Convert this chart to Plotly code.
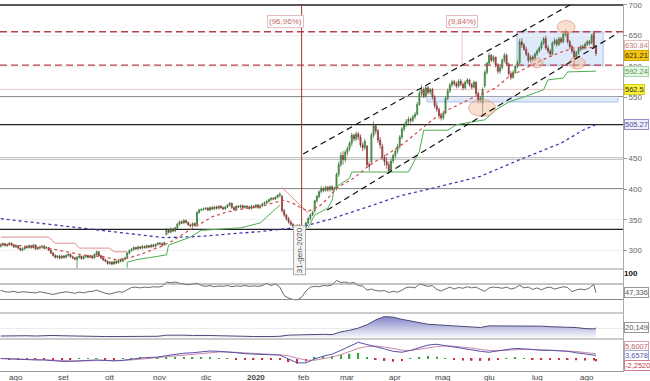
import pandas as pd
import plotly.graph_objects as go
from plotly.subplots import make_subplots

# ---------------- data ----------------
first_day = "2019-07-23"

close = [
 309, 311, 308, 310, 312, 309, 306, 308, 304, 301,
 303, 306, 305, 308, 305, 309, 303, 304, 306, 307,
 304, 305, 301, 296, 292, 289, 291, 288, 291, 289,
 292, 294, 290, 288, 286, 289, 291, 287, 290, 292,
 289, 291, 288, 294, 298, 292, 288, 285, 283, 279,
 281, 278, 282, 280, 284, 283, 286, 288, 296, 300,
 302, 305, 303, 306, 304, 307, 305, 308, 306, 309,
 307, 310, 312, 311, 309, 313, 333, 330, 335, 332,
 337, 343, 347, 345, 349, 346, 342, 340, 344, 341,
 362, 366, 367, 368, 369, 366, 370, 368, 371, 369,
 372, 370, 368, 371, 374, 377, 370, 367, 372, 371,
 373, 370, 372, 371, 369, 372, 371, 374, 370, 373,
 376, 378, 380, 383, 385, 384, 387, 390, 392, 365,
 358, 352, 347, 343, 340, 338, 341, 337, 334, 339,
 345, 352, 358, 362, 381, 388, 396, 401, 398, 403,
 399, 404, 400, 401, 424, 440, 455, 448, 460, 466,
 475, 488, 482, 490, 485, 472, 468, 478, 440, 437,
 488, 503, 495, 480, 472, 452, 445, 440, 430, 446,
 455, 462, 470, 485, 498, 505, 510, 514, 512, 518,
 522, 538, 556, 562, 552, 565, 558, 562, 550, 536,
 530, 520, 516, 524, 548, 560, 570, 575, 572, 568,
 576, 571, 565, 574, 578, 570, 566, 574, 556, 545,
 548, 562, 590, 605, 618, 610, 615, 602, 592, 598,
 610, 618, 604, 588, 582, 590, 600, 606, 640, 635,
 628, 620, 610, 615, 612, 620, 625, 630, 638, 645,
 630, 625, 620, 638, 642, 636, 645, 640, 652, 656,
 640, 632, 625, 615, 622, 628, 632, 630, 636, 640,
 638, 650, 632, 621.21]

open_ = [
 307, 309, 311, 308, 310, 312, 309, 306, 308, 304,
 301, 303, 306, 305, 308, 305, 309, 303, 304, 306,
 307, 304, 305, 301, 296, 292, 289, 291, 288, 291,
 289, 292, 294, 290, 288, 286, 289, 291, 287, 290,
 292, 289, 291, 288, 293, 298, 292, 288, 285, 283,
 279, 281, 278, 282, 280, 284, 283, 286, 289, 296,
 300, 302, 305, 303, 306, 304, 307, 305, 308, 306,
 309, 307, 310, 312, 311, 309, 326, 333, 330, 335,
 332, 337, 343, 347, 345, 349, 346, 342, 340, 344,
 343, 362, 366, 367, 368, 369, 366, 370, 368, 371,
 369, 372, 370, 368, 371, 374, 377, 370, 367, 372,
 371, 373, 370, 372, 371, 369, 372, 371, 374, 370,
 373, 376, 378, 380, 383, 385, 384, 387, 390, 389,
 365, 358, 352, 347, 343, 340, 338, 341, 337, 334,
 339, 345, 352, 358, 364, 381, 388, 396, 401, 398,
 403, 399, 404, 400, 401, 424, 440, 455, 448, 460,
 466, 475, 488, 482, 490, 485, 472, 468, 470, 440,
 445, 488, 503, 495, 480, 470, 452, 445, 440, 430,
 446, 455, 462, 470, 485, 498, 505, 510, 514, 512,
 518, 522, 538, 556, 562, 552, 565, 558, 562, 550,
 536, 530, 520, 516, 524, 548, 560, 570, 575, 572,
 568, 576, 571, 565, 574, 578, 570, 566, 574, 556,
 545, 540, 568, 590, 605, 618, 610, 615, 602, 592,
 598, 610, 618, 604, 588, 582, 590, 600, 606, 640,
 635, 628, 620, 610, 615, 612, 620, 625, 630, 638,
 645, 630, 625, 620, 638, 642, 636, 645, 640, 652,
 656, 640, 632, 625, 615, 622, 628, 632, 630, 636,
 640, 638, 654, 633]

high = [
 311, 313, 312, 311, 314, 313, 310, 310, 309, 305,
 305, 308, 308, 310, 309, 311, 310, 306, 308, 309,
 309, 307, 306, 302, 298, 294, 293, 293, 293, 293,
 294, 296, 295, 292, 290, 291, 293, 292, 292, 294,
 293, 293, 292, 295, 300, 299, 293, 290, 287, 284,
 283, 283, 284, 284, 286, 286, 288, 290, 298, 302,
 304, 307, 306, 308, 307, 309, 308, 310, 309, 311,
 311, 312, 314, 314, 313, 315, 337, 335, 338, 337,
 339, 345, 349, 349, 351, 350, 347, 344, 346, 346,
 364, 368, 369, 370, 371, 371, 372, 372, 373, 373,
 374, 374, 372, 373, 376, 379, 378, 372, 374, 374,
 375, 375, 374, 374, 373, 374, 374, 376, 376, 375,
 378, 380, 382, 385, 387, 387, 389, 392, 395, 390,
 368, 360, 355, 349, 345, 342, 343, 343, 339, 341,
 347, 355, 360, 365, 383, 391, 398, 405, 403, 406,
 405, 406, 406, 404, 427, 445, 460, 462, 464, 470,
 478, 492, 490, 494, 493, 489, 476, 482, 472, 445,
 492, 510, 506, 498, 485, 474, 456, 452, 445, 450,
 458, 466, 474, 488, 501, 508, 514, 518, 517, 521,
 526, 542, 560, 570, 566, 568, 568, 565, 565, 553,
 541, 533, 524, 528, 551, 564, 573, 578, 578, 575,
 579, 580, 574, 577, 581, 580, 573, 577, 576, 559,
 552, 566, 594, 608, 622, 620, 618, 616, 605, 601,
 613, 622, 621, 606, 592, 594, 603, 610, 645, 646,
 638, 632, 623, 618, 618, 623, 628, 633, 642, 648,
 650, 634, 628, 641, 646, 645, 648, 648, 655, 660,
 658, 643, 635, 628, 625, 631, 635, 635, 639, 643,
 643, 653, 658, 635]

low = [
 305, 307, 307, 306, 308, 307, 304, 304, 302, 299,
 299, 301, 303, 303, 303, 303, 301, 301, 302, 304,
 302, 302, 299, 294, 290, 287, 287, 286, 286, 287,
 287, 290, 288, 286, 284, 271, 287, 285, 285, 288,
 287, 288, 286, 287, 292, 290, 286, 283, 281, 277,
 277, 276, 277, 278, 279, 281, 281, 284, 288, 294,
 298, 300, 301, 301, 302, 302, 303, 303, 304, 304,
 305, 305, 308, 309, 307, 308, 325, 328, 328, 330,
 330, 335, 341, 343, 343, 344, 340, 338, 338, 339,
 341, 360, 364, 365, 366, 364, 364, 366, 366, 367,
 367, 368, 366, 366, 369, 372, 368, 365, 365, 369,
 369, 368, 368, 369, 367, 367, 369, 369, 368, 368,
 371, 374, 376, 378, 381, 382, 382, 385, 387, 362,
 355, 349, 344, 340, 337, 335, 336, 335, 331, 332,
 336, 343, 349, 356, 362, 378, 385, 393, 395, 396,
 396, 396, 397, 397, 398, 420, 436, 440, 444, 455,
 462, 470, 478, 478, 480, 468, 462, 464, 435, 430,
 440, 484, 490, 475, 466, 448, 438, 433, 425, 428,
 442, 450, 458, 466, 481, 494, 501, 506, 507, 509,
 514, 520, 536, 552, 548, 549, 554, 554, 546, 532,
 526, 515, 512, 513, 522, 545, 557, 566, 568, 564,
 565, 568, 561, 563, 571, 567, 563, 564, 552, 540,
 541, 520, 565, 587, 602, 607, 606, 598, 588, 588,
 595, 606, 601, 585, 578, 580, 588, 597, 604, 630,
 625, 617, 606, 607, 608, 609, 617, 622, 627, 635,
 627, 621, 616, 618, 634, 632, 633, 637, 638, 648,
 637, 628, 621, 597, 612, 619, 625, 627, 628, 633,
 634, 636, 629, 617]

# short moving average (red dotted): trading-day number -> value
ma_red_day = [0, 7, 15, 23, 31, 39, 47, 53, 59, 65, 73, 79, 85, 91, 97, 104, 111, 119,
              125, 130, 134, 137, 141, 146, 150, 154, 162, 169, 177, 185, 192, 198, 205,
              211, 217, 223, 227, 233, 241, 248, 256, 263, 273]
ma_red_val = [311, 309, 306, 303, 297, 292, 290, 285, 288, 295, 306, 316, 330, 342, 355, 363,
              368, 371, 378, 382, 377, 371, 364, 372, 385, 402, 418, 439, 456, 475, 496, 513,
              529, 540, 550, 558, 565, 583, 597, 610, 622, 630, 630.84]

# long moving average (blue dotted)
ma_blue_day = [0, 17, 32, 47, 59, 75, 91, 101, 119, 137, 151, 169, 183, 201, 220, 238, 257, 267, 273]
ma_blue_val = [352, 345, 338, 332, 327, 321, 323, 326, 331, 338, 351, 372, 389, 404, 421, 448,
               475, 496, 505.27]

# trailing stop lines
stop_red1_day = [0, 22, 25, 34, 36, 50, 52, 58]
stop_red1_val = [322, 322, 312, 312, 304, 304, 298, 298]
stop_green1_day = [58, 58, 62, 67, 72, 76, 77, 87, 92, 110, 119, 123, 128]
stop_green1_val = [272, 281, 285, 288, 290, 293, 309, 322, 333, 337, 345, 358, 374]
stop_red2_day = [129, 141]
stop_red2_val = [403, 361]
stop_green2_day = [141, 144, 150, 152, 153, 160, 161, 187, 192, 194, 205, 209, 222, 227, 233,
                   239, 249, 251, 258, 260, 273]
stop_green2_val = [337, 358, 369, 382, 402, 418, 428, 428, 461, 496, 496, 505, 513, 529, 542,
                   549, 562, 578, 581, 591, 592.24]

# RSI, every 2nd trading day plus the last one
rsi_val = [54, 50, 49, 51, 48, 50, 49, 48, 47, 50,
           48, 46, 43, 46, 48, 50, 48, 46, 49, 47,
           50, 51, 54, 49, 46, 44, 47, 50, 49, 55,
           61, 62, 60, 62, 61, 63, 62, 64, 75, 73,
           75, 72, 70, 68, 70, 72, 66, 64, 66, 63,
           65, 64, 66, 63, 65, 64, 66, 64, 65, 64,
           66, 72, 66, 70, 62, 40, 34, 30, 29, 36,
           52, 62, 64, 63, 66, 65, 68, 79, 74, 75,
           72, 74, 66, 65, 54, 57, 53, 52, 53, 48,
           51, 49, 54, 61, 62, 60, 70, 66, 64, 66,
           56, 52, 58, 62, 57, 61, 59, 63, 60, 62,
           56, 51, 60, 62, 61, 59, 62, 57, 60, 67,
           60, 62, 56, 60, 55, 60, 62, 57, 60, 63,
           61, 50, 55, 57, 55, 60, 69, 47.336]

# volatility (area), MACD, signal, histogram: every 4th trading day plus the last one
atr_val = [5.5, 6, 5.5, 6, 5.5, 6.5, 6.5, 6, 5.5, 5,
           5, 4.5, 4.5, 4.5, 4.5, 5, 5, 5, 5, 7,
           7.5, 7, 6.5, 7, 6.5, 6, 6, 5.5, 5, 4.5,
           4, 4.5, 5, 7, 7.5, 8, 9, 8.5, 8, 13,
           16, 20, 26, 35, 41, 40, 36, 33, 29, 27,
           26, 24.5, 24, 23, 22, 21, 24, 24, 23, 24,
           24, 23, 23.5, 22.5, 22.5, 21.5, 21, 19, 18.5, 20.149]
macd_val = [0.5, 0, -0.5, -0.5, -1, -1, -2, -2.5, -2.5, -2,
            -1.5, -1, -1.5, -2, -1.5, 0, 1, 1.5, 2, 3.5,
            5, 6, 6.5, 7.5, 8.3, 8, 7.5, 6.5, 5.5, 5,
            4.5, 4.5, 4, 0, -4, -4, 0, 3, 5, 9,
            13, 17.4, 15, 13, 10.5, 8, 7, 9, 12, 14.5,
            15.3, 14, 12.5, 11, 9.5, 8, 7, 8.5, 10, 11,
            10.5, 9.5, 9, 9, 8.5, 8, 6.5, 5, 4, 3.6578]
signal_val = [0.5, 0.3, 0, -0.3, -0.6, -0.8, -1.2, -1.7, -2.1, -2.1,
              -1.9, -1.5, -1.4, -1.6, -1.6, -1, -0.2, 0.6, 1.2, 2,
              3, 4.1, 5, 5.8, 6.7, 7.3, 7.4, 7.1, 6.5, 5.9,
              5.3, 4.9, 4.5, 3.2, 0.8, -1.3, -1.3, 0, 2, 4.5,
              7.6, 11, 13, 13.5, 12.5, 10.8, 9.2, 8.8, 9.8, 11.5,
              13, 13.6, 13.3, 12.5, 11.3, 10, 8.8, 8.6, 9.1, 9.8,
              10.1, 10, 9.6, 9.3, 9, 8.6, 7.8, 6.7, 5.6, 5.6007]
hist_val = [0, -0.3, -0.5, -0.2, -0.4, -0.2, -0.8, -0.8, -0.4, 0.1,
            0.4, 0.5, -0.1, -0.4, 0.1, 1, 1.2, 0.9, 0.8, 1.5,
            2, 1.9, 1.5, 1.7, 1.6, 0.7, 0.1, -0.6, -1, -0.9,
            -0.8, -0.4, -0.5, -3.2, -4.8, -2.7, 1.3, 3, 3, 4.5,
            5.4, 6.4, 2, -0.5, -2, -2.8, -2.2, 0.2, 2.2, 3,
            2.3, 0.4, -0.8, -1.5, -1.8, -2, -1.8, -0.1, 0.9, 1.2,
            0.4, -0.5, -0.6, -0.3, -0.5, -0.6, -1.3, -1.7, -1.6, -2.252]

# horizontal levels and drawn objects (price units)
black_levels = [700, 550, 505, 450, 400, 334.5]
red_dash_levels = [656.5, 602]
faint_level = 562.5
channel_upper = (("2020-01-31 17:00", 457.3), ("2020-07-27 07:00", 706.5))
channel_lower = (("2020-02-17 17:00", 366.0), ("2020-08-21 02:00", 654.4))
box_range = (("2020-06-17 18:00", 602), ("2020-08-12 07:00", 656.5))
band_range = (("2020-04-21 12:00", 542), ("2020-08-21 02:00", 550))
ellipses = [(("2020-05-18 14:00", 518.4), ("2020-06-04 00:00", 546.0)),
            (("2020-07-14 05:00", 653.6), ("2020-07-24 10:00", 674.8)),
            (("2020-06-26 05:00", 597.4), ("2020-07-03 17:00", 613.7)),
            (("2020-07-21 17:00", 595.8), ("2020-07-31 00:00", 615.3))]
marker_day = "2020-01-31"
measure_day = "2020-05-13 14:00"

month_ticks = ["2019-08-01", "2019-09-02", "2019-10-01", "2019-11-01", "2019-12-02",
               "2020-01-02", "2020-02-03", "2020-03-02", "2020-04-01", "2020-05-01",
               "2020-06-01", "2020-07-01", "2020-08-03"]
month_text = ["ago", "set", "ott", "nov", "dic", "<b>2020</b>", "feb", "mar", "apr", "mag",
              "giu", "lug", "ago"]
price_ticks = [300, 350, 400, 450, 550, 600, 650, 700]

# ---------------- figure ----------------
dates = pd.bdate_range(first_day, periods=len(close))
n = len(dates)
d2 = list(dates[0:n - 1:2]) + [dates[-1]]
d4 = list(dates[0:n - 1:4]) + [dates[-1]]
def days(idx):
    return [dates[k] for k in idx]

fig = make_subplots(rows=4, cols=1, shared_xaxes=True, vertical_spacing=0)

# main panel
fig.add_trace(go.Scatter(x=days(ma_blue_day), y=ma_blue_val, mode="lines",
                         line=dict(color="#3c3cb0", width=1.3, dash="dot"), hoverinfo="skip"), 1, 1)
fig.add_trace(go.Scatter(x=days(stop_red1_day), y=stop_red1_val, mode="lines",
                         line=dict(color="#e08c8c", width=1), hoverinfo="skip"), 1, 1)
fig.add_trace(go.Scatter(x=days(stop_red2_day), y=stop_red2_val, mode="lines",
                         line=dict(color="#e08c8c", width=1), hoverinfo="skip"), 1, 1)
fig.add_trace(go.Scatter(x=days(stop_green1_day), y=stop_green1_val, mode="lines",
                         line=dict(color="#4caf50", width=1), hoverinfo="skip"), 1, 1)
fig.add_trace(go.Scatter(x=days(stop_green2_day), y=stop_green2_val, mode="lines",
                         line=dict(color="#4caf50", width=1), hoverinfo="skip"), 1, 1)
fig.add_trace(go.Scatter(x=days(ma_red_day), y=ma_red_val, mode="lines",
                         line=dict(color="#d44848", width=1.2, dash="dot"), hoverinfo="skip"), 1, 1)
fig.add_trace(go.Candlestick(x=dates, open=open_, high=high, low=low, close=close,
                             increasing=dict(line=dict(color="#2f6f2f", width=0.7), fillcolor="#5cb85c"),
                             decreasing=dict(line=dict(color="#7a2e2e", width=0.7), fillcolor="#cc5555"),
                             whiskerwidth=0, hoverinfo="skip"), 1, 1)

# RSI
fig.add_trace(go.Scatter(x=d2, y=rsi_val, mode="lines", line=dict(color="#444444", width=0.8),
                         hoverinfo="skip"), 2, 1)
# volatility area
fig.add_trace(go.Scatter(x=d4, y=atr_val, mode="lines", fill="tozeroy",
                         fillgradient=dict(type="vertical",
                                           colorscale=[[0, "rgba(255,255,255,0.9)"], [1, "rgba(120,120,195,0.9)"]]),
                         line=dict(color="#4a4a78", width=1), hoverinfo="skip"), 3, 1)
# MACD
fig.add_trace(go.Bar(x=d4, y=hist_val,
                     marker=dict(color=["#3fa33f" if v >= 0 else "#c83045" for v in hist_val], line_width=0),
                     hoverinfo="skip"), 4, 1)
fig.add_trace(go.Scatter(x=d4, y=signal_val, mode="lines", line=dict(color="#c98aa8", width=1),
                         hoverinfo="skip"), 4, 1)
fig.add_trace(go.Scatter(x=d4, y=macd_val, mode="lines", line=dict(color="#5a4fa8", width=1),
                         hoverinfo="skip"), 4, 1)

shapes = []
for lv in black_levels:
    shapes.append(dict(type="line", xref="x domain", yref="y", x0=0, x1=1, y0=lv, y1=lv,
                       line=dict(color="#222222", width=1.3), layer="below"))
for lv in red_dash_levels:
    shapes.append(dict(type="line", xref="x domain", yref="y", x0=0, x1=1, y0=lv, y1=lv,
                       line=dict(color="#b8404c", width=1.4, dash="7px,4px")))
shapes.append(dict(type="line", xref="x domain", yref="y", x0=0, x1=1, y0=faint_level, y1=faint_level,
                   line=dict(color="#ecc4c4", width=1), layer="below"))
shapes.append(dict(type="line", xref="x", yref="y", x0=measure_day, x1=measure_day,
                   y0=red_dash_levels[1], y1=red_dash_levels[0],
                   line=dict(color="#ecc4c4", width=1), layer="below"))
shapes.append(dict(type="rect", xref="x", yref="y", x0=box_range[0][0], x1=box_range[1][0],
                   y0=box_range[0][1], y1=box_range[1][1],
                   fillcolor="rgba(200,218,245,0.6)", line=dict(color="#a8c0e6", width=1), layer="below"))
shapes.append(dict(type="rect", xref="x", yref="y", x0=band_range[0][0], x1=band_range[1][0],
                   y0=band_range[0][1], y1=band_range[1][1],
                   fillcolor="rgba(200,218,245,0.6)", line=dict(color="#a8c0e6", width=1), layer="below"))
for (a, b) in ellipses:
    shapes.append(dict(type="circle", xref="x", yref="y", x0=a[0], x1=b[0], y0=a[1], y1=b[1],
                       fillcolor="rgba(245,185,150,0.45)", line=dict(color="rgba(225,150,120,0.7)", width=1)))
for (a, b) in (channel_upper, channel_lower):
    shapes.append(dict(type="line", xref="x", yref="y", x0=a[0], y0=a[1], x1=b[0], y1=b[1],
                       line=dict(color="#111111", width=1.2, dash="6px,4px")))
shapes.append(dict(type="line", xref="x", yref="y domain", x0=marker_day, x1=marker_day, y0=0, y1=1,
                   line=dict(color="#9a3a3a", width=1)))
# panel separators and RSI levels
for yref, val in (("y2", 70), ("y2", 30)):
    shapes.append(dict(type="line", xref="x domain", yref=yref, x0=0, x1=1, y0=val, y1=val,
                       line=dict(color="#8a8a8a", width=1)))
for yref in ("y2 domain", "y3 domain", "y4 domain"):
    shapes.append(dict(type="line", xref="x domain", yref=yref, x0=0, x1=1, y0=1, y1=1,
                       line=dict(color="#9a9a9a", width=1)))

ann = []
def side_label(text, y, yref, fc, bg, bc, yshift=0, bold=False, size=7.5):
    ann.append(dict(text=("<b>%s</b>" % text) if bold else text, x=1, xref="paper", xanchor="left",
                    xshift=1, y=y, yref=yref, yanchor="middle", yshift=yshift, showarrow=False,
                    font=dict(size=size, color=fc), bgcolor=bg, bordercolor=bc,
                    borderwidth=1 if bc else 0, borderpad=0))

side_label("630.84", 630.84, "y", "#c87a7a", "white", "#e8baba", yshift=2)
side_label("621.21", 621.21, "y", "#3a3000", "#f2c416", "#d4a800", yshift=-2)
side_label("592.24", 592.24, "y", "#4a9a4a", "#e6f5e6", "#a8d8a8")
side_label("562.5", 562.5, "y", "#333300", "#f7f040", "#d8d020")
side_label("505.27", 505.27, "y", "#5050a0", "#eeeefa", "#9090c8")
side_label("100", 100, "y2", "#111111", None, None, yshift=-1, bold=True, size=8)
side_label("47,336", 47.336, "y2", "#555555", "white", "#999999")
side_label("20,149", 20.149, "y3", "#555555", "white", "#999999")
side_label("5,6007", 5.6007, "y4", "#c06070", "white", "#d8a0a8", yshift=7)
side_label("3,6578", 3.6578, "y4", "#5060b0", "white", "#a0a8d8")
side_label("-2,2520", -2.252, "y4", "#c04050", "white", "#d08090", yshift=-4)

ann.append(dict(text="(96,96%)", x="2020-01-21 10:00", y=672.3, xref="x", yref="y", showarrow=False,
                font=dict(size=8, color="#c46a6a"), bgcolor="white", bordercolor="#e6bcbc",
                borderwidth=1, borderpad=1))
ann.append(dict(text="(9,84%)", x=measure_day, y=672.3, xref="x", yref="y", showarrow=False,
                font=dict(size=8, color="#c46a6a"), bgcolor="white", bordercolor="#e6bcbc",
                borderwidth=1, borderpad=1))
ann.append(dict(text="31-gen-2020", x=marker_day, y=300, xref="x", yref="y", showarrow=False,
                textangle=-90, xshift=-2, font=dict(size=8, color="#555555"), bgcolor="#f6f6f6",
                bordercolor="#aaaaaa", borderwidth=1, borderpad=1))
# month labels under the bottom panel
for tv, tt in zip(month_ticks, month_text):
    ann.append(dict(text=tt, x=tv, xref="x4", y=0, yref="paper", yanchor="middle", yshift=-6,
                    showarrow=False, font=dict(size=8, color="#444444")))

xr = ["2019-07-22 16:00", "2020-08-25 09:30"]
common_x = dict(range=xr, rangebreaks=[dict(bounds=["sat", "mon"])], showgrid=False,
                zeroline=False, showticklabels=False, rangeslider=dict(visible=False))

H = 367.0
fig.update_layout(
    width=650, height=381, margin=dict(l=0, r=27, t=4, b=10),
    paper_bgcolor="white", plot_bgcolor="white", showlegend=False, bargap=0.3,
    font=dict(family="Liberation Sans, Arial, sans-serif", size=8, color="#555555"),
    shapes=shapes, annotations=ann,
    xaxis=dict(common_x), xaxis2=dict(common_x), xaxis3=dict(common_x),
    xaxis4=dict(common_x, showline=True, linecolor="#9a9a9a"),
    yaxis=dict(domain=[102 / H, 1], range=[270, 701.6], side="right", tickvals=price_ticks,
               ticks="outside", ticklen=3, tickcolor="#999999", tickfont=dict(size=8, color="#666666"),
               showgrid=True, gridcolor="#efefef", zeroline=False, showline=True,
               linecolor="#aaaaaa", automargin=False),
    yaxis2=dict(domain=[58 / H, 102 / H], range=[-4.8, 108.7], side="right", showticklabels=False,
                showgrid=False, zeroline=False, showline=True, linecolor="#aaaaaa"),
    yaxis3=dict(domain=[32 / H, 58 / H], range=[0, 47.6], side="right", showticklabels=False,
                tickvals=[20], showgrid=True, gridcolor="#ececec", zeroline=False,
                showline=True, linecolor="#aaaaaa"),
    yaxis4=dict(domain=[0, 32 / H], range=[-12.5, 20.8], side="right", showticklabels=False,
                showgrid=False, zeroline=False, showline=True, linecolor="#aaaaaa"),
)

fig.write_html("out.html", config={"displayModeBar": False},
               post_script="document.body.style.margin='0';")
